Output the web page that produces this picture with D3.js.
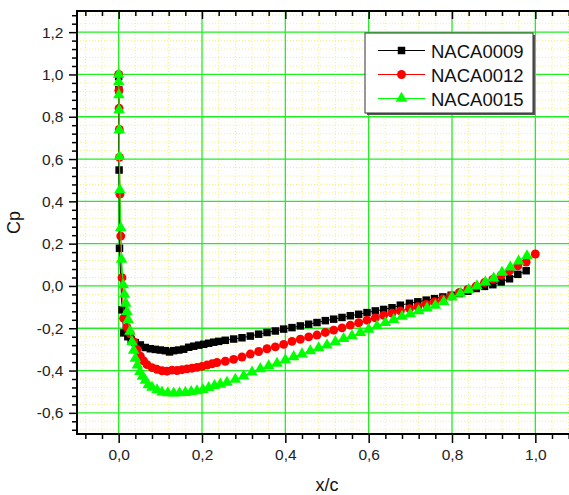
<!DOCTYPE html>
<html>
<head>
<meta charset="utf-8">
<script src="https://cdn.jsdelivr.net/npm/d3@7"></script>
<style>
  html, body { margin: 0; padding: 0; background: #fff; overflow: hidden; }
  svg { display: block; font-family: "Liberation Sans", Arial, sans-serif; }
</style>
</head>
<body>
<svg id="chart" width="569" height="495"></svg>
<script>
// Pressure coefficient along the chord, three symmetric NACA sections
const seriesNames = ["NACA0009", "NACA0012", "NACA0015"];

const naca0009X = [0.000, 0.0003, 0.001, 0.002, 0.008, 0.012, 0.022, 0.030, 0.040, 0.052,
  0.064, 0.076, 0.088, 0.100, 0.112, 0.122, 0.132, 0.144, 0.156, 0.168,
  0.180, 0.192, 0.204, 0.216, 0.228, 0.240, 0.256, 0.276, 0.296, 0.316,
  0.336, 0.356, 0.376, 0.396, 0.416, 0.436, 0.456, 0.476, 0.496, 0.516,
  0.536, 0.556, 0.576, 0.596, 0.616, 0.636, 0.656, 0.676, 0.698, 0.718,
  0.738, 0.758, 0.778, 0.798, 0.818, 0.838, 0.858, 0.878, 0.898, 0.918,
  0.938, 0.958, 0.978];
const naca0009Cp = [0.990, 0.927, 0.548, 0.178, -0.113, -0.222, -0.240, -0.255, -0.268, -0.279,
  -0.291, -0.297, -0.300, -0.303, -0.306, -0.312, -0.306, -0.303, -0.299, -0.290,
  -0.285, -0.280, -0.276, -0.271, -0.266, -0.262, -0.257, -0.251, -0.245, -0.237,
  -0.228, -0.220, -0.213, -0.204, -0.197, -0.189, -0.181, -0.173, -0.164, -0.157,
  -0.149, -0.141, -0.134, -0.126, -0.118, -0.111, -0.103, -0.091, -0.082, -0.075,
  -0.067, -0.060, -0.052, -0.044, -0.036, -0.025, -0.012, -0.002, 0.006, 0.019,
  0.034, 0.055, 0.072];

const naca0012X = [0.000, 0.0005, 0.001, 0.0015, 0.002, 0.003, 0.005, 0.008, 0.012, 0.020,
  0.028, 0.036, 0.044, 0.052, 0.060, 0.068, 0.080, 0.092, 0.104, 0.116,
  0.128, 0.140, 0.152, 0.164, 0.176, 0.188, 0.200, 0.212, 0.224, 0.236,
  0.256, 0.276, 0.296, 0.316, 0.336, 0.356, 0.376, 0.396, 0.416, 0.436,
  0.456, 0.476, 0.496, 0.516, 0.536, 0.556, 0.576, 0.596, 0.616, 0.636,
  0.656, 0.676, 0.698, 0.718, 0.738, 0.758, 0.778, 0.798, 0.818, 0.838,
  0.858, 0.878, 0.898, 0.918, 0.938, 0.958, 0.978, 1.000];
const naca0012Cp = [1.000, 0.925, 0.840, 0.740, 0.608, 0.434, 0.236, 0.039, -0.153, -0.195,
  -0.226, -0.263, -0.300, -0.332, -0.354, -0.372, -0.386, -0.394, -0.401, -0.403,
  -0.398, -0.400, -0.396, -0.392, -0.389, -0.385, -0.380, -0.374, -0.368, -0.362,
  -0.356, -0.347, -0.336, -0.322, -0.310, -0.297, -0.288, -0.276, -0.262, -0.252,
  -0.241, -0.232, -0.220, -0.209, -0.198, -0.185, -0.174, -0.162, -0.151, -0.139,
  -0.129, -0.118, -0.107, -0.098, -0.087, -0.075, -0.062, -0.048, -0.031, -0.016,
  -0.001, 0.016, 0.031, 0.051, 0.071, 0.095, 0.113, 0.151];

const naca0015X = [0.000, 0.0002, 0.0005, 0.001, 0.0015, 0.002, 0.003, 0.005, 0.007, 0.011,
  0.014, 0.017, 0.020, 0.023, 0.027, 0.032, 0.036, 0.040, 0.045, 0.051,
  0.057, 0.064, 0.071, 0.080, 0.092, 0.104, 0.118, 0.132, 0.146, 0.160,
  0.174, 0.188, 0.202, 0.216, 0.230, 0.244, 0.260, 0.280, 0.300, 0.320,
  0.340, 0.360, 0.380, 0.400, 0.420, 0.440, 0.460, 0.480, 0.500, 0.520,
  0.540, 0.560, 0.580, 0.600, 0.620, 0.640, 0.660, 0.680, 0.700, 0.720,
  0.740, 0.760, 0.780, 0.800, 0.820, 0.840, 0.860, 0.880, 0.900, 0.920,
  0.940, 0.960, 0.980];
const naca0015Cp = [1.000, 0.965, 0.903, 0.832, 0.738, 0.611, 0.454, 0.274, 0.125, 0.005,
  -0.040, -0.082, -0.122, -0.160, -0.215, -0.265, -0.305, -0.343, -0.375, -0.405,
  -0.428, -0.447, -0.468, -0.480, -0.492, -0.502, -0.506, -0.507, -0.506, -0.504,
  -0.500, -0.496, -0.490, -0.481, -0.472, -0.465, -0.456, -0.442, -0.426, -0.408,
  -0.392, -0.378, -0.366, -0.350, -0.335, -0.322, -0.307, -0.293, -0.280, -0.264,
  -0.249, -0.236, -0.221, -0.205, -0.190, -0.174, -0.159, -0.144, -0.132, -0.118,
  -0.105, -0.092, -0.074, -0.053, -0.035, -0.018, 0.000, 0.018, 0.037, 0.064,
  0.089, 0.117, 0.142];

const xMajorTicks = [0.0, 0.2, 0.4, 0.6, 0.8, 1.0];
const yMajorTicks = [-0.6, -0.4, -0.2, 0.0, 0.2, 0.4, 0.6, 0.8, 1.0, 1.2];
const xLabel = "x/c";
const yLabel = "Cp";

const series = [
  { name: seriesNames[0], xs: naca0009X, cp: naca0009Cp, color: "#000000", shape: d3.symbolSquare, size: 56 },
  { name: seriesNames[1], xs: naca0012X, cp: naca0012Cp, color: "#ff0000", shape: d3.symbolCircle, size: 62 },
  { name: seriesNames[2], xs: naca0015X, cp: naca0015Cp, color: "#00ff00", shape: d3.symbolTriangle, size: 58 }
];

const svg = d3.select("#chart");
const plot = { left: 77, right: 577, top: 11, bottom: 434 };

const x = d3.scaleLinear().domain([-0.1, 1.1]).range([plot.left, plot.right]);
const y = d3.scaleLinear().domain([-0.7, 1.3]).range([plot.bottom, plot.top]);

const locale = d3.formatLocale({ decimal: ",", thousands: ".", grouping: [3], currency: ["", ""], minus: "-" });
const fmt = locale.format(".1f");

// minor tick positions every 0.04, skipping the major ones
const xMinor = d3.range(-2, 28).filter(k => k % 5 !== 0).map(k => k * 0.04);
const yMinor = d3.range(-17, 33).filter(k => k % 5 !== 0).map(k => k * 0.04);

// background grid
const grid = svg.append("g");
grid.selectAll(".vminor").data(xMinor).join("line")
  .attr("x1", d => x(d)).attr("x2", d => x(d))
  .attr("y1", plot.top).attr("y2", plot.bottom)
  .attr("stroke", "#f4f27a").attr("stroke-width", 1).attr("stroke-dasharray", "1,2");
grid.selectAll(".hminor").data(yMinor).join("line")
  .attr("x1", plot.left).attr("x2", plot.right)
  .attr("y1", d => y(d)).attr("y2", d => y(d))
  .attr("stroke", "#f4f27a").attr("stroke-width", 1).attr("stroke-dasharray", "1,2");
grid.selectAll(".vmajor").data(xMajorTicks).join("line")
  .attr("x1", d => x(d)).attr("x2", d => x(d))
  .attr("y1", plot.top).attr("y2", plot.bottom)
  .attr("stroke", "#22ee22").attr("stroke-width", 1.3);
grid.selectAll(".hmajor").data(yMajorTicks).join("line")
  .attr("x1", plot.left).attr("x2", plot.right)
  .attr("y1", d => y(d)).attr("y2", d => y(d))
  .attr("stroke", "#22ee22").attr("stroke-width", 1.3);

// data series: thin connecting line with symbols on top
series.forEach(s => {
  const pts = s.xs.map((v, i) => [v, s.cp[i]]);
  const g = svg.append("g");
  g.append("path")
    .attr("d", d3.line().x(d => x(d[0])).y(d => y(d[1]))(pts))
    .attr("fill", "none").attr("stroke", s.color).attr("stroke-width", 1);
  g.selectAll("path.m").data(pts).join("path").attr("class", "m")
    .attr("transform", d => `translate(${x(d[0])},${y(d[1])})`)
    .attr("d", d3.symbol().type(s.shape).size(s.size)())
    .attr("fill", s.color);
});

// axes
function styleAxis(g) {
  g.select(".domain").remove();
  g.selectAll(".tick line").attr("stroke", "#000").attr("stroke-width", 1.5);
  g.selectAll(".tick text").attr("fill", "#222").style("font-size", "15.5px")
    .style("font-family", "'Liberation Sans', Arial, sans-serif");
}

svg.append("g").attr("transform", `translate(0,${plot.bottom})`)
  .call(d3.axisBottom(x).tickValues(xMajorTicks).tickSize(9).tickPadding(6).tickFormat(fmt))
  .call(styleAxis);
svg.append("g").attr("transform", `translate(0,${plot.bottom})`)
  .call(d3.axisBottom(x).tickValues(xMinor).tickSize(5).tickFormat(""))
  .call(styleAxis);
svg.append("g").attr("transform", `translate(${plot.left},0)`)
  .call(d3.axisLeft(y).tickValues(yMajorTicks).tickSize(8).tickPadding(5.5).tickFormat(fmt))
  .call(styleAxis);
svg.append("g").attr("transform", `translate(${plot.left},0)`)
  .call(d3.axisLeft(y).tickValues(yMinor).tickSize(5).tickFormat(""))
  .call(styleAxis);
// top axis: ticks pointing into the plot, no labels
svg.append("g").attr("transform", `translate(0,${plot.top})`)
  .call(d3.axisBottom(x).tickValues(xMajorTicks).tickSize(8).tickFormat(""))
  .call(styleAxis);
svg.append("g").attr("transform", `translate(0,${plot.top})`)
  .call(d3.axisBottom(x).tickValues(xMinor).tickSize(5).tickFormat(""))
  .call(styleAxis);

// axis lines
svg.append("line").attr("x1", plot.left).attr("x2", plot.right)
  .attr("y1", plot.bottom).attr("y2", plot.bottom).attr("stroke", "#000").attr("stroke-width", 2);
svg.append("line").attr("x1", plot.left).attr("x2", plot.right)
  .attr("y1", plot.top).attr("y2", plot.top).attr("stroke", "#000").attr("stroke-width", 2);
svg.append("line").attr("x1", plot.left).attr("x2", plot.left)
  .attr("y1", plot.top - 1).attr("y2", plot.bottom + 1).attr("stroke", "#000").attr("stroke-width", 2);

// axis titles
svg.append("text").attr("x", (plot.left + plot.right) / 2).attr("y", 491)
  .attr("text-anchor", "middle").style("font-size", "18px").attr("fill", "#111").text(xLabel);
svg.append("text")
  .attr("transform", `translate(20,${(plot.top + plot.bottom) / 2}) rotate(-90)`)
  .attr("text-anchor", "middle").style("font-size", "18px").attr("fill", "#111").text(yLabel);

// legend
const lg = svg.append("g").attr("transform", "translate(365,33)");
lg.append("rect").attr("x", 2).attr("y", 2).attr("width", 168).attr("height", 80).attr("fill", "#555");
lg.append("rect").attr("x", 0).attr("y", 0).attr("width", 168).attr("height", 80)
  .attr("fill", "#fff").attr("stroke", "#333").attr("stroke-width", 1);
series.forEach((s, i) => {
  const cy = 17.5 + i * 24;
  lg.append("line").attr("x1", 13).attr("x2", 60).attr("y1", cy).attr("y2", cy)
    .attr("stroke", s.color).attr("stroke-width", 1);
  lg.append("path").attr("transform", `translate(36.5,${cy})`)
    .attr("d", d3.symbol().type(s.shape).size(s.size)()).attr("fill", s.color);
  lg.append("text").attr("x", 66).attr("y", cy + 7).style("font-size", "18.5px")
    .attr("fill", "#111").text(s.name);
});
</script>
</body>
</html>
